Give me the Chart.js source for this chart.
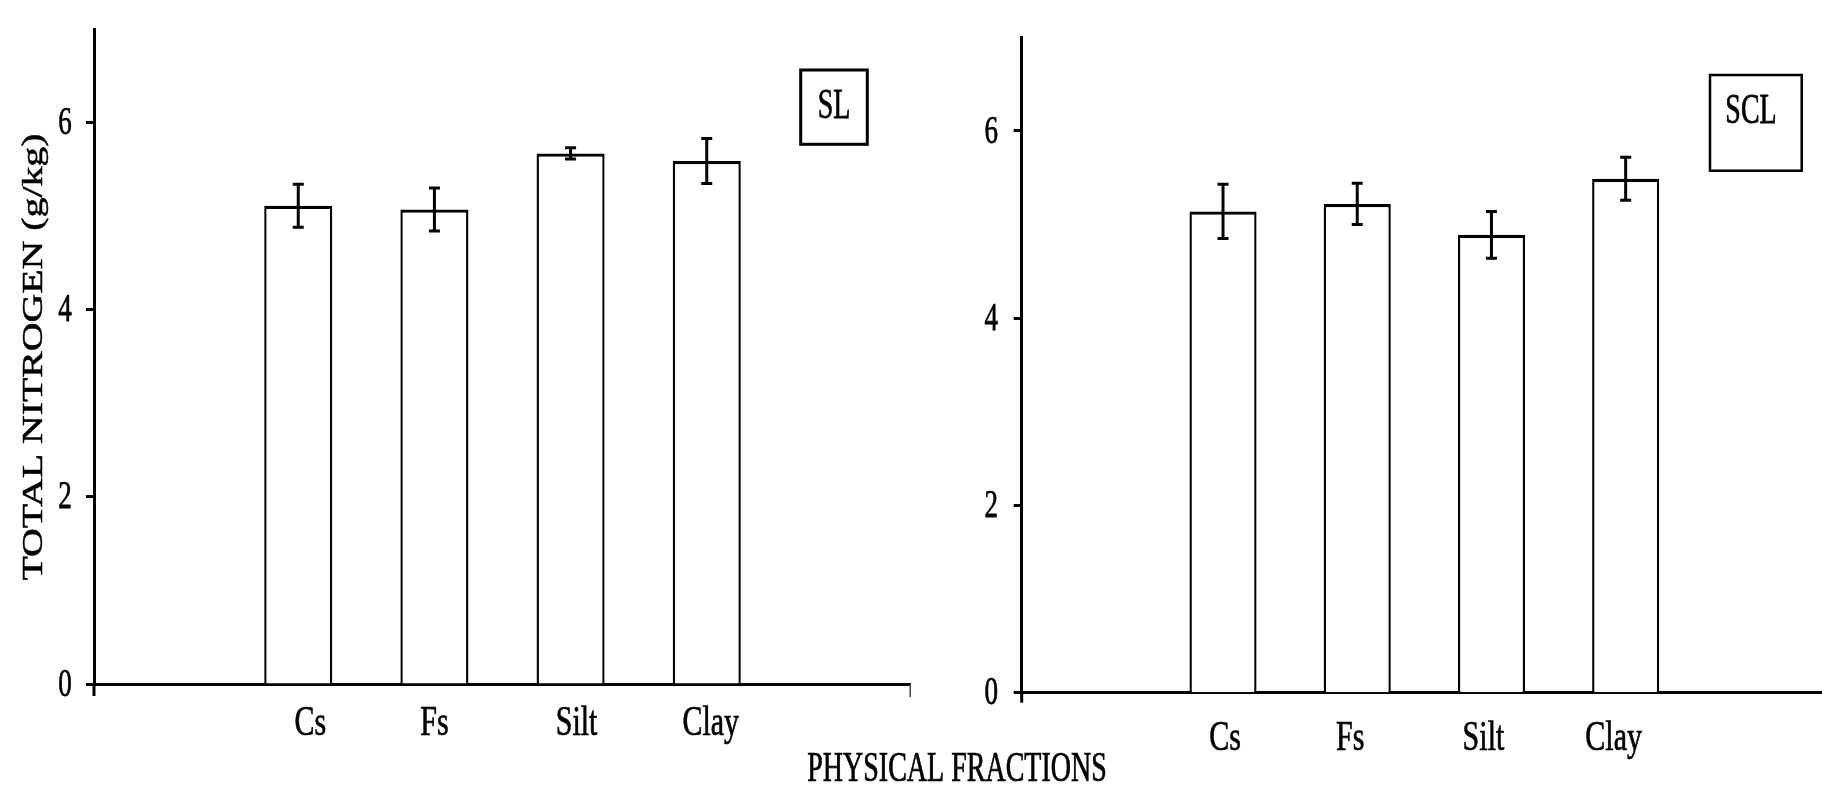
<!DOCTYPE html>
<html>
<head>
<meta charset="utf-8">
<script src="https://cdn.jsdelivr.net/npm/chart.js@4.4.1/dist/chart.umd.min.js"></script>
<style>
html,body{margin:0;padding:0;background:#fff;overflow:hidden;width:1822px;height:790px;}
canvas{position:absolute;top:0;}
#c1{left:0;}
#c2{left:780px;}
</style>
</head>
<body>
<canvas id="c1" width="911" height="790" style="width:911px;height:790px"></canvas>
<canvas id="c2" width="1047" height="790" style="width:1047px;height:790px"></canvas>
<script>
// ---- data ----
const categories = ['Cs', 'Fs', 'Silt', 'Clay'];
const slValues  = [5.11, 5.07, 5.67, 5.59];
const slErrors  = [0.23, 0.23, 0.06, 0.24];
const sclValues = [5.14, 5.22, 4.89, 5.49];
const sclErrors = [0.29, 0.22, 0.25, 0.23];
const yTickValues = [0, 2, 4, 6];
const yMax = 7;
const yTitle = 'TOTAL NITROGEN (g/kg)';
const xTitle = 'PHYSICAL FRACTIONS';

const FONT = '"Liberation Serif", "Times New Roman", serif';

function stretchedText(ctx, text, x, y, size, sy, align, baseline, sx) {
  ctx.save();
  ctx.font = size + 'px ' + FONT;
  ctx.textAlign = align;
  ctx.textBaseline = baseline;
  ctx.fillStyle = '#000';
  ctx.strokeStyle = '#000';
  ctx.lineWidth = 0.5;
  ctx.translate(x, y);
  ctx.scale(sx || 1, sy);
  ctx.fillText(text, 0, 0);
  ctx.strokeText(text, 0, 0);
  ctx.restore();
}

function makeChart(canvasId, values, errors, o) {
  const labels = [''].concat(categories, ['']);
  const data = [null].concat(values, [null]);
  const decor = {
    id: 'decor' + canvasId,
    afterDatasetsDraw(chart) {
      const ctx = chart.ctx, ys = chart.scales.y;
      const meta = chart.getDatasetMeta(0);
      ctx.save();
      ctx.strokeStyle = '#000';
      ctx.lineWidth = 3;
      values.forEach((v, i) => {
        const bar = meta.data[i + 1];
        const x = bar.x;
        const yt = ys.getPixelForValue(v + errors[i]);
        const yb = ys.getPixelForValue(v - errors[i]);
        ctx.beginPath();
        ctx.moveTo(x, yt); ctx.lineTo(x, yb);
        ctx.moveTo(x - 5.5, yt); ctx.lineTo(x + 5.5, yt);
        ctx.moveTo(x - 5.5, yb); ctx.lineTo(x + 5.5, yb);
        ctx.stroke();
      });
      ctx.restore();
    },
    afterDraw(chart) {
      const ctx = chart.ctx, xs = chart.scales.x, ys = chart.scales.y, a = chart.chartArea;
      // axis extension below zero line
      ctx.save();
      ctx.strokeStyle = '#000';
      ctx.lineWidth = 3;
      ctx.beginPath();
      ctx.moveTo(a.left, a.bottom); ctx.lineTo(a.left, a.bottom + o.axisExt);
      ctx.stroke();
      if (o.rightTick) {
        ctx.lineWidth = 1.5;
        ctx.strokeStyle = '#444';
        ctx.beginPath();
        ctx.moveTo(a.right - 0.75, a.bottom); ctx.lineTo(a.right - 0.75, a.bottom + 13);
        ctx.stroke();
      }
      ctx.restore();
      // y tick labels
      yTickValues.forEach(v => {
        stretchedText(ctx, String(v), a.left - o.yLabelOffset, ys.getPixelForValue(v) + 1, 27, 1.5, 'center', 'middle');
      });
      // category labels
      categories.forEach((c, i) => {
        stretchedText(ctx, c, xs.getPixelForValue(i + 1) + o.catShift[i], a.bottom + o.catBaseline, 30, 1.38, 'center', 'alphabetic');
      });
      // series box
      const b = o.box;
      ctx.save();
      ctx.strokeStyle = '#000';
      ctx.lineWidth = b.lw;
      ctx.strokeRect(b.x, b.y, b.w, b.h);
      ctx.restore();
      stretchedText(ctx, b.text, b.tx, b.ty, 28, 1.5, 'center', 'middle');
      if (o.drawYTitle) {
        ctx.save();
        ctx.font = '30px ' + FONT;
        const w = ctx.measureText(yTitle).width;
        ctx.translate(41.5, 357);
        ctx.rotate(-Math.PI / 2);
        ctx.scale(447 / w, 1);
        ctx.textAlign = 'center';
        ctx.textBaseline = 'alphabetic';
        ctx.fillStyle = '#000';
        ctx.strokeStyle = '#000';
        ctx.lineWidth = 0.5;
        ctx.fillText(yTitle, 0, 0);
        ctx.strokeText(yTitle, 0, 0);
        ctx.restore();
      }
      if (o.drawXTitle) {
        stretchedText(ctx, xTitle, o.xTitleX, 781, 28, 1.48, 'center', 'alphabetic');
      }
    }
  };
  return new Chart(document.getElementById(canvasId), {
    type: 'bar',
    data: {
      labels: labels,
      datasets: [{
        data: data,
        backgroundColor: '#ffffff',
        borderColor: '#000000',
        borderWidth: { top: 3.2, left: 2.4, right: 2.4, bottom: 0 },
        barPercentage: 0.5,
        categoryPercentage: 1.0
      }]
    },
    options: {
      responsive: false,
      animation: false,
      devicePixelRatio: 1,
      layout: { padding: { top: o.top, left: 0, right: 0, bottom: 0 } },
      plugins: { legend: { display: false }, tooltip: { enabled: false } },
      scales: {
        x: {
          type: 'category',
          offset: true,
          grid: { display: false, drawTicks: false },
          border: { display: true, color: '#000', width: 3 },
          ticks: { display: false },
          afterFit: s => { s.height = o.xAxisHeight; }
        },
        y: {
          min: 0,
          max: yMax,
          afterBuildTicks: s => { s.ticks = yTickValues.map(v => ({ value: v })); },
          grid: { display: true, drawOnChartArea: false, drawTicks: true, tickLength: 8, tickWidth: 3, tickColor: '#000', color: '#000' },
          border: { display: true, color: '#000', width: 3 },
          ticks: { display: false },
          afterFit: s => { s.width = o.yAxisWidth; }
        }
      }
    },
    plugins: [decor]
  });
}

makeChart('c1', slValues, slErrors, {
  top: 29, xAxisHeight: 106, yAxisWidth: 94, axisExt: 12, rightTick: true,
  yLabelOffset: 29, catShift: [12, 0, 6, 4], catBaseline: 51,
  box: { x: 800.7, y: 70, w: 66.6, h: 74.3, lw: 3, text: 'SL', tx: 834, ty: 107 },
  drawYTitle: true, drawXTitle: false
});

makeChart('c2', sclValues, sclErrors, {
  top: 37.3, xAxisHeight: 97.3, yAxisWidth: 241.7, axisExt: 10, rightTick: false,
  yLabelOffset: 30.5, catShift: [2, -7, -8, -12], catBaseline: 57,
  box: { x: 930, y: 75, w: 91.7, h: 95.7, lw: 2.5, text: 'SCL', tx: 971, ty: 112 },
  drawYTitle: false, drawXTitle: true, xTitleX: 177
});
</script>
</body>
</html>
